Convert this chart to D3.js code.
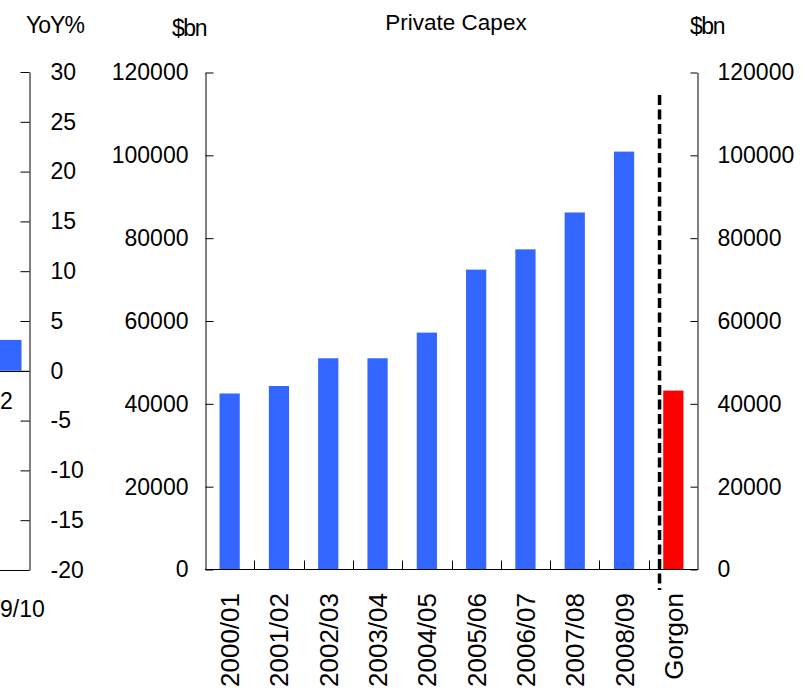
<!DOCTYPE html>
<html>
<head>
<meta charset="utf-8">
<script src="https://cdn.jsdelivr.net/npm/d3@7"></script>
<style>
  html, body { margin: 0; padding: 0; background: #fff; }
  svg { display: block; font-family: "Liberation Sans", Arial, sans-serif; }
</style>
</head>
<body>
<svg id="chart" width="808" height="691"></svg>
<script>
// Private capex by financial year, $bn, plus the Gorgon project for comparison
const categories = ["2000/01", "2001/02", "2002/03", "2003/04", "2004/05",
                    "2005/06", "2006/07", "2007/08", "2008/09", "Gorgon"];
const capexValues = [42500, 44300, 51000, 51000, 57200, 72400, 77300, 86200, 100900, 43200];
const barColors = ["#3366FF", "#3366FF", "#3366FF", "#3366FF", "#3366FF",
                   "#3366FF", "#3366FF", "#3366FF", "#3366FF", "#FF0000"];
const capexTicks = [0, 20000, 40000, 60000, 80000, 100000, 120000];

// Neighbouring panel (only its right edge is in view): year-on-year growth, %
const yoyCategories = ["9/10"];
const yoyValues = [3.1];
const yoyTicks = [-20, -15, -10, -5, 0, 5, 10, 15, 20, 25, 30];
const yoyNote = "2";

const svg = d3.select("#chart");
const fontSize = 23;
const plain = d => String(d);   // hyphen-minus for negatives

// ---------- main panel ----------
const plot = { left: 205, right: 698, top: 72.5, bottom: 569.5 };

const x = d3.scaleBand().domain(categories).range([plot.left, plot.right]).padding(0);
const y = d3.scaleLinear().domain([0, 120000]).range([plot.bottom, plot.top]);
const barW = x.bandwidth() * 0.41;

svg.append("g").selectAll("rect")
  .data(categories)
  .join("rect")
  .attr("x", d => x(d) + (x.bandwidth() - barW) / 2)
  .attr("width", barW)
  .attr("y", (d, i) => y(capexValues[i]))
  .attr("height", (d, i) => y(0) - y(capexValues[i]))
  .attr("fill", (d, i) => barColors[i]);

// left value axis, ticks pointing inward
svg.append("g")
  .attr("transform", `translate(${plot.left + 0.5},0)`)
  .call(d3.axisLeft(y).tickValues(capexTicks).tickFormat(plain)
        .tickSizeInner(-8).tickSizeOuter(0).tickPadding(17));

// right value axis, ticks pointing inward
svg.append("g")
  .attr("transform", `translate(${plot.right - 0.5},0)`)
  .call(d3.axisRight(y).tickValues(capexTicks).tickFormat(plain)
        .tickSizeInner(-7).tickSizeOuter(0).tickPadding(20));

// category axis: baseline, separators between bands, rotated labels
const bottom = svg.append("g");
bottom.append("line")
  .attr("x1", plot.left).attr("x2", plot.right)
  .attr("y1", plot.bottom).attr("y2", plot.bottom)
  .attr("stroke", "#000");
bottom.selectAll("line.sep")
  .data(categories.slice(1))
  .join("line")
  .attr("class", "sep")
  .attr("x1", d => Math.round(x(d)) + 0.5).attr("x2", d => Math.round(x(d)) + 0.5)
  .attr("y1", plot.bottom).attr("y2", plot.bottom - 9)
  .attr("stroke", "#000");
bottom.selectAll("text")
  .data(categories)
  .join("text")
  .attr("transform", d => `translate(${x(d) + x.bandwidth() / 2 + 9.5},593) rotate(-90)`)
  .attr("text-anchor", "end")
  .attr("font-size", 26)
  .attr("fill", "#000")
  .text(d => d);

// dashed separator before the Gorgon bar
const gx = x("Gorgon") + x.bandwidth() * 0.22;
svg.append("line")
  .attr("x1", gx).attr("x2", gx)
  .attr("y1", 95).attr("y2", 590)
  .attr("stroke", "#000")
  .attr("stroke-width", 3.5)
  .attr("stroke-dasharray", "10,4.5");

// ---------- neighbouring YoY panel ----------
const yy = d3.scaleLinear().domain([-20, 30]).range([570, 72]);
const yoyRight = 29;
const xy = d3.scaleBand().domain(yoyCategories).range([-38, 41]).padding(0);

svg.append("g").selectAll("rect")
  .data(yoyCategories)
  .join("rect")
  .attr("x", d => xy(d) + xy.bandwidth() / 2 - 19)
  .attr("width", 39)
  .attr("y", (d, i) => yy(yoyValues[i]))
  .attr("height", (d, i) => yy(0) - yy(yoyValues[i]))
  .attr("fill", "#3366FF");

svg.append("g")
  .attr("transform", `translate(${yoyRight + 0.5},0)`)
  .call(d3.axisRight(yy).tickValues(yoyTicks).tickFormat(plain)
        .tickSizeInner(-9).tickSizeOuter(0).tickPadding(21));

svg.append("line")
  .attr("x1", 0).attr("x2", yoyRight).attr("y1", Math.round(yy(0)) + 0.5).attr("y2", Math.round(yy(0)) + 0.5)
  .attr("stroke", "#000");
svg.append("line")
  .attr("x1", 0).attr("x2", yoyRight).attr("y1", Math.round(yy(-20)) + 0.5).attr("y2", Math.round(yy(-20)) + 0.5)
  .attr("stroke", "#000");

svg.append("text")
  .attr("x", 0).attr("y", yy(0) + 38)
  .attr("text-anchor", "start")
  .attr("font-size", fontSize)
  .text(yoyNote);

svg.append("g").selectAll("text")
  .data(yoyCategories)
  .join("text")
  .attr("x", 0)
  .attr("y", 617)
  .attr("text-anchor", "start")
  .attr("font-size", fontSize)
  .text(d => d);

// ---------- shared axis styling ----------
svg.selectAll(".domain").attr("stroke", "#000");
svg.selectAll(".tick line").attr("stroke", "#000");
svg.selectAll(".tick text").attr("font-size", fontSize).attr("fill", "#000")
  .attr("font-family", "'Liberation Sans', Arial, sans-serif");

// ---------- titles ----------
svg.append("text").attr("x", 456).attr("y", 30).attr("text-anchor", "middle")
  .attr("font-size", 22.5).text("Private Capex");
svg.append("text").attr("x", 189).attr("y", 36).attr("text-anchor", "middle")
  .attr("font-size", 23).attr("letter-spacing", -1.5).text("$bn");
svg.append("text").attr("x", 707).attr("y", 34).attr("text-anchor", "middle")
  .attr("font-size", 23).attr("letter-spacing", -1.5).text("$bn");
svg.append("text").attr("x", 55).attr("y", 33).attr("text-anchor", "middle")
  .attr("font-size", 23).attr("letter-spacing", -1).text("YoY%");
</script>
</body>
</html>
